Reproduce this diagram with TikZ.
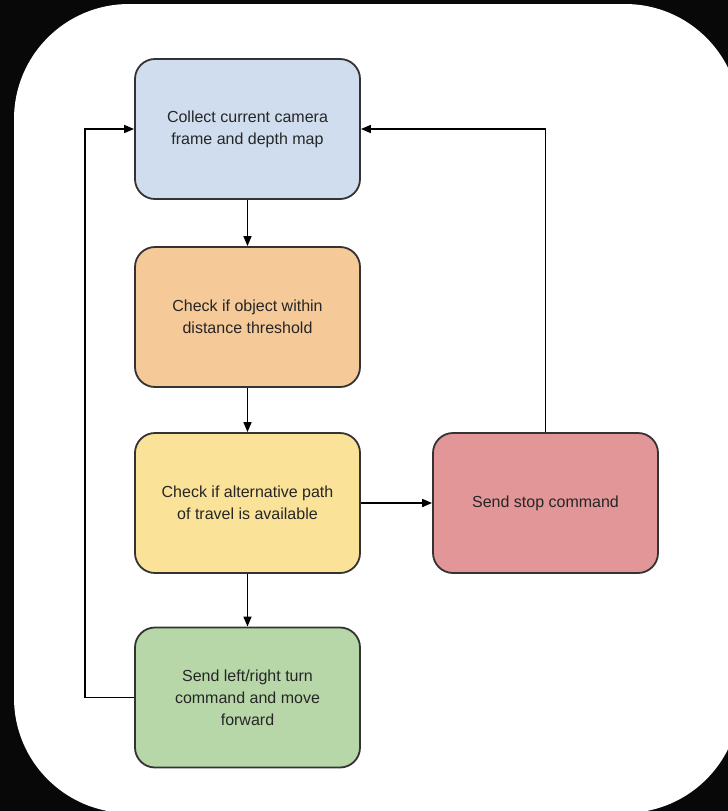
\documentclass[tikz,border=0pt]{standalone}
\usepackage{fontspec}
\setmainfont{Liberation Sans}
\usetikzlibrary{arrows.meta}

\definecolor{bgdark}{HTML}{080808}
\definecolor{boxline}{HTML}{333333}
\definecolor{txt}{HTML}{262626}
\definecolor{fillblue}{RGB}{207,221,238}
\definecolor{fillorange}{RGB}{245,201,152}
\definecolor{fillyellow}{RGB}{250,226,152}
\definecolor{fillred}{RGB}{226,150,152}
\definecolor{fillgreen}{RGB}{183,215,168}

\begin{document}
\begin{tikzpicture}[x=1pt,y=-1pt,
  stepbox/.style={draw=boxline, line width=1.8pt, rounded corners=20pt,
    minimum width=225pt, minimum height=140pt, inner sep=0pt,
    align=center, text=txt, font=\fontsize{16}{22}\selectfont},
  flow/.style={draw=black, line width=1.6pt,
    -{Triangle[length=10pt,width=8pt]}}]

  % page background and white card
  \fill[bgdark] (0,0) rectangle (728,811);
  \useasboundingbox (0,0) rectangle (728,811);
  \fill[white, rounded corners=115pt] (14,4) rectangle (740,813);

  % process steps
  \node[stepbox, fill=fillblue]   (collect) at (247.5,129)
    {Collect current camera\\frame and depth map};
  \node[stepbox, fill=fillorange] (check)   at (247.5,317)
    {Check if object within\\distance threshold};
  \node[stepbox, fill=fillyellow] (alt)     at (247.5,503)
    {Check if alternative path\\of travel is available};
  \node[stepbox, fill=fillgreen]  (turn)    at (247.5,697.5)
    {Send left/right turn\\command and move\\forward};
  \node[stepbox, fill=fillred]    (stop)    at (545.5,503)
    {Send stop command};

  \coordinate (loopL) at (85,697.5);

  % connectors
  \draw[flow] (collect) -- (check);
  \draw[flow] (check) -- (alt);
  \draw[flow] (alt) -- (turn);
  \draw[flow] (alt) -- (stop);
  \draw[flow] (stop.north) |- (collect.east);
  \draw[flow] (turn.west) -- (loopL) |- (collect.west);
\end{tikzpicture}
\end{document}
